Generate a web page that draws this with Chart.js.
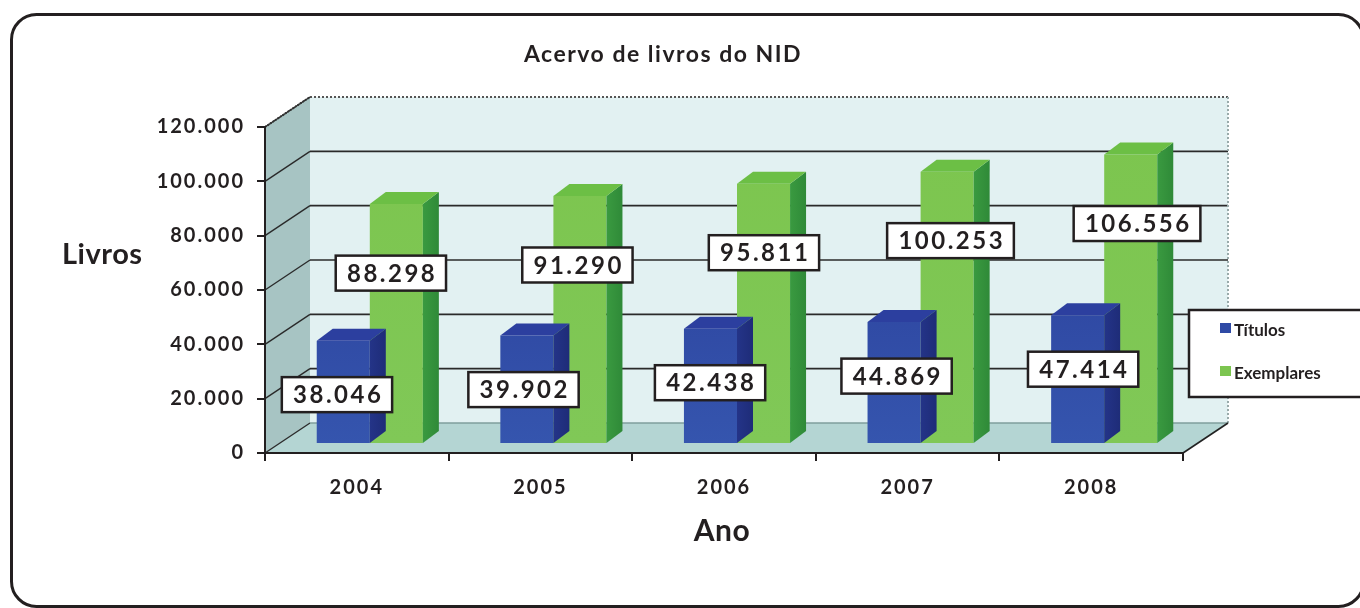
<!DOCTYPE html>
<html>
<head>
<meta charset="utf-8">
<script src="https://cdn.jsdelivr.net/npm/chart.js@4"></script>
<style>
  html, body { margin: 0; padding: 0; background: #fff; }
  canvas { display: block; }
</style>
</head>
<body>
<canvas id="acervoChart" width="1360" height="608"></canvas>
<script>
const anos = ['2004', '2005', '2006', '2007', '2008'];
const titulos = [38046, 39902, 42438, 44869, 47414];
const exemplares = [88298, 91290, 95811, 100253, 106556];
const yTicks = [0, 20000, 40000, 60000, 80000, 100000, 120000];

const FONT = 'Lato, "DejaVu Sans", sans-serif';
const INK = '#231f20';

// depth of the box, where the column row sits in it, and column depth
const wall = { dx: 45, dy: -30 };
const row = { dx: 13, dy: -9 };
const face = { dx: 16, dy: -12 };

// label offset below the column top, per series, and perspective spread
const labelDrop = [54, 69];
const labelSpread = 0.016;

function fmt(v) {
  return String(v).replace(/\B(?=(\d{3})+(?!\d))/g, '.');
}

function poly(ctx, pts, fill) {
  ctx.beginPath();
  ctx.moveTo(pts[0][0], pts[0][1]);
  for (let i = 1; i < pts.length; i++) ctx.lineTo(pts[i][0], pts[i][1]);
  ctx.closePath();
  ctx.fillStyle = fill;
  ctx.fill();
}

function line(ctx, x1, y1, x2, y2, color, width, dash) {
  ctx.save();
  ctx.beginPath();
  ctx.setLineDash(dash || []);
  ctx.strokeStyle = color;
  ctx.lineWidth = width;
  ctx.moveTo(x1, y1);
  ctx.lineTo(x2, y2);
  ctx.stroke();
  ctx.restore();
}

// walls, floor and gridlines behind the columns
const scenePlugin = {
  id: 'scene',
  beforeDraw(chart) {
    const ctx = chart.ctx;
    const { left, right, top, bottom } = chart.chartArea;
    const y = chart.scales.y;
    ctx.save();
    ctx.fillStyle = '#fff';
    ctx.fillRect(0, 0, chart.width, chart.height);

    const bl = left + wall.dx, br = right + wall.dx;
    const bt = top + wall.dy, bb = bottom + wall.dy;

    // back wall
    poly(ctx, [[bl, bt], [br, bt], [br, bb], [bl, bb]], '#e2f1f2');
    // side wall
    poly(ctx, [[left, top], [bl, bt], [bl, bb], [left, bottom]], '#a7c4c3');
    // floor
    poly(ctx, [[left, bottom], [bl, bb], [br, bb], [right, bottom]], '#b4d5d3');

    yTicks.forEach(function(v) {
      const py = y.getPixelForValue(v);
      if (v > 0 && v < 120000) {
        line(ctx, bl, py + wall.dy, br, py + wall.dy, '#2a2a2a', 1.6);
      }
      line(ctx, left, py, bl, py + wall.dy, '#2a2a2a', 1.4);
    });

    line(ctx, bl, bb, br, bb, '#7f9e9d', 1.5);
    line(ctx, bl, bt, br, bt, '#555', 2, [2, 2]);
    line(ctx, br, bt, br, bb, '#9aa', 2, [2, 2]);
    line(ctx, left, top, bl, bt, '#333', 2, [2, 1]);
    line(ctx, right, bottom, br, bb, '#222', 1.6);

    ctx.restore();
    // spacing for the tick labels drawn by the scales
    ctx.letterSpacing = '2px';
  },
  beforeDatasetDraw(chart) {
    chart.ctx.save();
    chart.ctx.translate(row.dx, row.dy);
  },
  afterDatasetDraw(chart, args) {
    const ctx = chart.ctx;
    const colors = args.index === 0
      ? { top: '#2c3f9f', side: '#243488' }
      : { top: '#6cbf45', side: '#3a9a40' };
    args.meta.data.forEach(function(bar) {
      const xl = bar.x - bar.width / 2, xr = bar.x + bar.width / 2;
      const t = bar.y, b = bar.base;
      const side = ctx.createLinearGradient(xr, 0, xr + face.dx, 0);
      side.addColorStop(0, colors.side);
      side.addColorStop(1, args.index === 0 ? '#1e2c78' : '#2f8a38');
      poly(ctx, [[xr, t], [xr + face.dx, t + face.dy], [xr + face.dx, b + face.dy], [xr, b]], side);
      poly(ctx, [[xl, t], [xl + face.dx, t + face.dy], [xr + face.dx, t + face.dy], [xr, t]], colors.top);
    });
    ctx.restore();
  },
  afterDatasetsDraw(chart) {
    const ctx = chart.ctx;
    const a = chart.chartArea;
    const midX = (a.left + a.right) / 2;
    ctx.save();
    ctx.font = 'bold 24px ' + FONT;
    ctx.letterSpacing = '2.5px';
    ctx.textAlign = 'center';
    ctx.textBaseline = 'middle';
    chart.data.datasets.forEach(function(ds, i) {
      chart.getDatasetMeta(i).data.forEach(function(bar, j) {
        const text = fmt(ds.data[j]);
        const w = ctx.measureText(text).width + 20;
        const h = 35;
        const cx = bar.x + row.dx + (bar.x - midX) * labelSpread;
        const cy = bar.y + row.dy + labelDrop[i];
        ctx.fillStyle = '#fff';
        ctx.fillRect(cx - w / 2, cy - h / 2, w, h);
        ctx.strokeStyle = INK;
        ctx.lineWidth = 2.5;
        ctx.strokeRect(cx - w / 2, cy - h / 2, w, h);
        ctx.fillStyle = INK;
        ctx.fillText(text, cx + 1.25, cy + 1);
      });
    });
    ctx.restore();
  },
  afterDraw(chart) {
    const ctx = chart.ctx;
    ctx.save();
    ctx.fillStyle = INK;
    ctx.textBaseline = 'alphabetic';

    ctx.letterSpacing = '1.5px';
    ctx.font = 'bold 23px ' + FONT;
    ctx.textAlign = 'center';
    ctx.fillText('Acervo de livros do NID', 663, 62);

    ctx.letterSpacing = '0.5px';
    ctx.font = 'bold 29px ' + FONT;
    ctx.textAlign = 'left';
    ctx.fillText('Livros', 62, 264);

    ctx.font = 'bold 30px ' + FONT;
    ctx.textAlign = 'center';
    const a = chart.chartArea;
    ctx.fillText('Ano', (a.left + a.right) / 2 - 2, 541);

    // legend
    ctx.letterSpacing = '0px';
    ctx.fillStyle = '#fff';
    ctx.fillRect(1189, 310, 175, 87);
    ctx.strokeStyle = INK;
    ctx.lineWidth = 2.5;
    ctx.strokeRect(1189, 310, 175, 87);
    ctx.font = 'bold 17px ' + FONT;
    ctx.textAlign = 'left';
    chart.data.datasets.forEach(function(ds, i) {
      const yy = 323 + i * 43;
      ctx.fillStyle = ds.legendColor;
      ctx.fillRect(1220, yy, 11, 10);
      ctx.fillStyle = INK;
      ctx.fillText(ds.label, 1234, yy + 13);
    });

    // frame
    ctx.beginPath();
    ctx.roundRect(11.5, 14.5, 1352, 592, 25);
    ctx.strokeStyle = INK;
    ctx.lineWidth = 3;
    ctx.stroke();
    ctx.restore();
  }
};

function frontGradient(c1, c2) {
  return function(context) {
    const area = context.chart.chartArea;
    if (!area) return c1;
    const g = context.chart.ctx.createLinearGradient(0, area.top, 0, area.bottom);
    g.addColorStop(0, c1);
    g.addColorStop(1, c2);
    return g;
  };
}

const tickFont = { family: FONT, size: 20, weight: 'bold' };

new Chart(document.getElementById('acervoChart'), {
  type: 'bar',
  data: {
    labels: anos,
    datasets: [{
      label: 'Títulos',
      data: titulos,
      legendColor: '#2f4aa5',
      backgroundColor: frontGradient('#283995', '#3555ae'),
      borderWidth: 0,
      categoryPercentage: 0.578,
      barPercentage: 1.0,
      clip: false
    }, {
      label: 'Exemplares',
      data: exemplares,
      legendColor: '#7cc550',
      backgroundColor: frontGradient('#7cc54e', '#80c857'),
      borderWidth: 0,
      categoryPercentage: 0.578,
      barPercentage: 1.0,
      clip: false
    }]
  },
  options: {
    responsive: false,
    animation: false,
    events: [],
    layout: { padding: { left: 0, top: 127, right: 177, bottom: 0 } },
    plugins: {
      legend: { display: false },
      title: { display: false },
      tooltip: { enabled: false }
    },
    scales: {
      x: {
        afterFit: function(scale) { scale.height = 155; },
        grid: {
          offset: true,
          drawOnChartArea: false,
          tickLength: 8,
          color: INK,
          lineWidth: 2
        },
        border: { display: true, color: INK, width: 2 },
        ticks: { font: tickFont, color: INK, padding: 15 }
      },
      y: {
        min: 0,
        max: 120000,
        afterFit: function(scale) { scale.width = 265; },
        afterBuildTicks: function(scale) {
          scale.ticks = yTicks.map(function(v) { return { value: v }; });
        },
        grid: {
          drawOnChartArea: false,
          tickLength: 8,
          color: INK,
          lineWidth: 2
        },
        border: { display: true, color: INK, width: 2 },
        ticks: {
          font: tickFont,
          color: INK,
          padding: 12,
          callback: function(v) { return fmt(v); }
        }
      }
    }
  },
  plugins: [scenePlugin]
});
</script>
</body>
</html>
